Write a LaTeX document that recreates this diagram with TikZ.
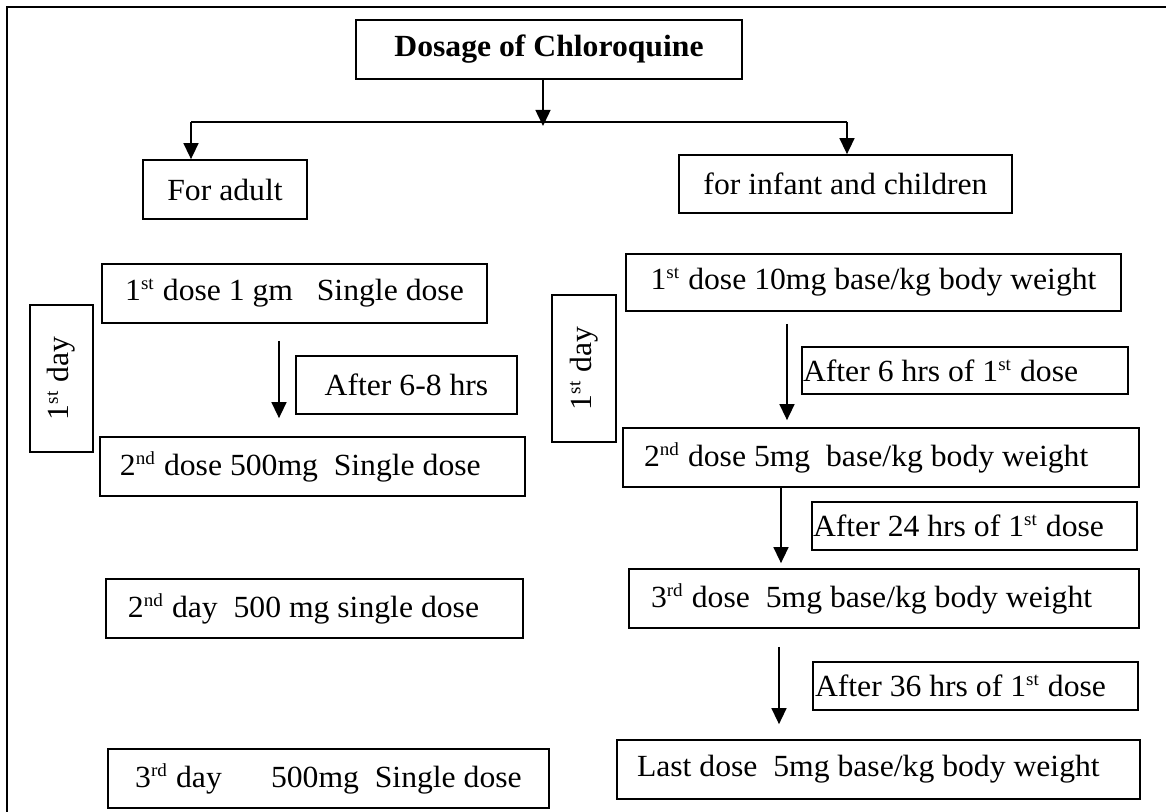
\documentclass[tikz,border=0pt]{standalone}
\usepackage{fontspec}
\setmainfont{Liberation Serif}[FakeStretch=1.03]
\usepackage{tikz}
\usetikzlibrary{arrows.meta}

\newcommand{\ordsup}[1]{\textsuperscript{\fontsize{7.4}{7}\selectfont #1}}

\tikzset{
  flow/.style={-{Triangle[length=6.4pt, width=6pt]}, line width=0.6pt},
  dosebox/.style={draw, line width=0.7pt, inner ysep=0pt},
  notebox/.style={dosebox, align=flush left},
}

\begin{document}
\begin{tikzpicture}[x=0.4pt, y=-0.4pt, font=\fontsize{12.3}{14}\selectfont]
        \useasboundingbox (0,0) rectangle (1166,812);
        \draw [line width=0.9pt] (1166,7) -- (7,7) -- (7,812);

        % top of the tree
        \node (title) [dosebox, minimum width=154.4pt, minimum height=23.6pt] at (549,49.5) {\textbf{Dosage of Chloroquine}};
        \node (adult) [dosebox, minimum width=65.6pt, minimum height=23.6pt] at (225,189.5) {For adult};
        \node (infant) [dosebox, minimum width=133.2pt, minimum height=23.2pt] at (845.5,184) {for infant and children};

        \coordinate (fork) at (543,126);
        \coordinate (forkL) at (191,122);
        \coordinate (forkR) at (847,122);
        \draw [flow] (title.south -| fork) -- (fork);
        \draw [line width=0.6pt] (forkL) -- (forkR);
        \draw [flow] (forkL) -- (adult.north -| forkL);
        \draw [flow] (forkR) -- (infant.north -| forkR);

        % adult column
        \node (lday) [dosebox, rotate=90, minimum width=58.8pt, minimum height=25.2pt] at (61.5,378.5) {1\ordsup{st} day};
        \node (adose1) [dosebox, minimum width=154pt, minimum height=23.6pt] at (294.5,293.5) {1\ordsup{st} dose 1 gm\ \ \ Single dose};
        \node (aafter) [dosebox, minimum width=88.4pt, minimum height=23.2pt] at (406.5,385) {After 6-8 hrs};
        \node (adose2) [notebox, text width=154pt, inner xsep=8pt, minimum height=23.6pt] at (312.5,466.5) {2\ordsup{nd} dose 500mg\ \ Single dose};
        \node (aday2) [notebox, text width=149.2pt, inner xsep=8.8pt, minimum height=23.6pt] at (314.5,608.5) {2\ordsup{nd} day\ \ 500 mg single dose};
        \node (aday3) [dosebox, minimum width=176.4pt, minimum height=23.6pt] at (328.5,778.5) {3\ordsup{rd} day\hspace{1.6em}500mg\ \ Single dose};

        \coordinate (acol) at (279,0);
        \draw [flow, shorten <=6.8pt, shorten >=7.2pt] (adose1.south -| acol) -- (adose2.north -| acol);

        % infant and children column
        \node (rday) [dosebox, rotate=90, minimum width=58.8pt, minimum height=25.6pt] at (584,368.5) {1\ordsup{st} day};
        \node (rdose1) [dosebox, minimum width=198pt, minimum height=22.8pt] at (873.5,282.5) {1\ordsup{st} dose 10mg base/kg body weight};
        \node (rafter1) [notebox, text width=129.6pt, inner xsep=0.4pt, minimum height=18.8pt] at (965,370.5) {After 6 hrs of 1\ordsup{st} dose};
        \node (rdose2) [notebox, text width=189.6pt, inner xsep=8.4pt, minimum height=23.6pt] at (881,457.5) {2\ordsup{nd} dose 5mg\ \ base/kg body weight};
        \node (rafter2) [notebox, text width=129.2pt, inner xsep=0.4pt, minimum height=19.2pt] at (974.5,526) {After 24 hrs of 1\ordsup{st} dose};
        \node (rdose3) [notebox, text width=186.4pt, inner xsep=8.8pt, minimum height=23.6pt] at (884,598.5) {3\ordsup{rd} dose\ \ 5mg base/kg body weight};
        \node (rafter3) [notebox, text width=128.4pt, inner xsep=0.8pt, minimum height=19.2pt] at (975.5,686) {After 36 hrs of 1\ordsup{st} dose};
        \node (rlast) [notebox, text width=193.2pt, inner xsep=8pt, minimum height=23.6pt] at (878.5,769.5) {Last dose\ \ 5mg base/kg body weight};

        \coordinate (rcol1) at (787,0);
        \coordinate (rcol2) at (781,0);
        \coordinate (rcol3) at (779,0);
        \draw [flow, shorten <=4.8pt, shorten >=2.8pt] (rdose1.south -| rcol1) -- (rdose2.north -| rcol1);
        \draw [flow, shorten >=2pt] (rdose2.south -| rcol2) -- (rdose3.north -| rcol2);
        \draw [flow, shorten <=7.2pt, shorten >=6pt] (rdose3.south -| rcol3) -- (rlast.north -| rcol3);
\end{tikzpicture}
\end{document}
